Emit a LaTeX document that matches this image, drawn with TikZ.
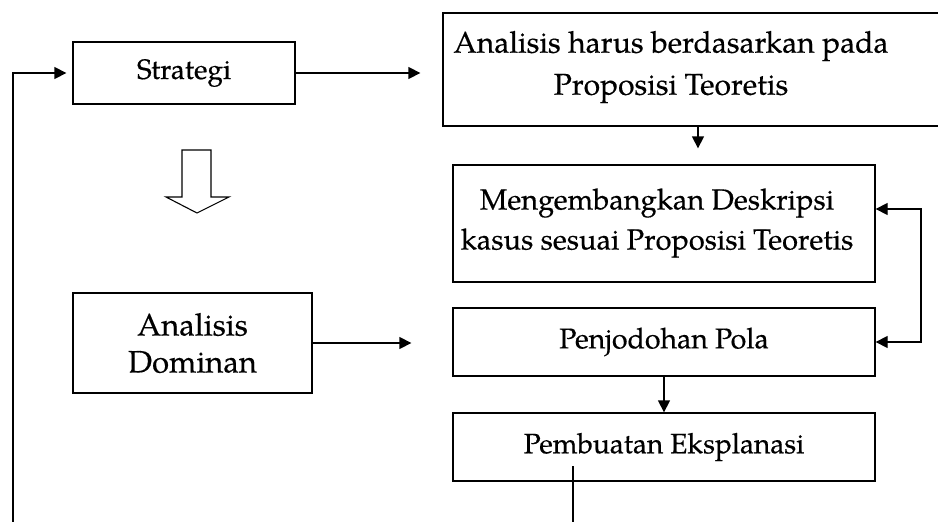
\documentclass[tikz,border=0pt]{standalone}
\usepackage{fontspec}
\setmainfont[FakeBold=0.4]{TeX Gyre Pagella}
\usetikzlibrary{arrows.meta,calc}
\begin{document}
\begin{tikzpicture}[x=1pt,y=-1pt,
  box/.style={draw,line width=1.3pt,rectangle,inner sep=0pt},
  lbl/.style={inner sep=0pt,align=center,font=\fontsize{27}{40}\selectfont},
  conn/.style={line width=1.3pt},
  arr/.style={conn,-{Triangle[length=12pt,width=12pt]}},
  darr/.style={conn,{Triangle[length=12pt,width=12pt]}-{Triangle[length=12pt,width=12pt]}}]
\useasboundingbox (0,0) rectangle (938,522);
% boxes
\node[box,minimum width=222pt,minimum height=62pt] (strat) at (184,73) {};
\node[box,minimum width=505pt,minimum height=113pt] (teori) at (695.5,69.5) {};
\node[box,minimum width=422pt,minimum height=117pt] (desk) at (664,223.5) {};
\node[box,minimum width=422pt,minimum height=68pt] (pola) at (664,342) {};
\node[box,minimum width=422pt,minimum height=68pt] (eks) at (664,447) {};
\node[box,minimum width=239pt,minimum height=100pt] (dom) at (192.5,343) {};
% texts
\node[lbl,font=\fontsize{28}{40}\selectfont] (tstrat) at (strat) {Strategi};
\node[lbl,font=\fontsize{30}{42}\selectfont] (tteori) at (671,67)
  {Analisis harus berdasarkan pada\\Proposisi Teoretis};
\node[lbl,font=\fontsize{29}{40}\selectfont] (tdesk) at (657,223)
  {Mengembangkan Deskripsi\\kasus sesuai Proposisi Teoretis};
\node[lbl,font=\fontsize{28.5}{40}\selectfont] (tpola) at (pola) {Penjodohan Pola};
\node[lbl,font=\fontsize{28}{40}\selectfont] (teks) at (eks) {Pembuatan Eksplanasi};
\node[lbl,font=\fontsize{31}{37}\selectfont] (tdom) at (dom) {Analisis\\Dominan};
% hollow arrow
\draw[line width=1.1pt] (182,150) -- (211,150) -- (211,197) -- (229,197) -- (197,213) -- (166,197) -- (182,197) -- cycle;
% connectors
\coordinate (lb) at (13,522);
\coordinate (xa) at (698,0);
\coordinate (xb) at (921,0);
\coordinate (xc) at (573,466);
\coordinate (xd) at (573,522);
\coordinate (yf) at (0,209);
\draw[arr,shorten >=6pt] (lb) |- (strat.west);
\draw[arr,shorten >=22pt] (strat.east) -- (strat.east -| teori.west);
\draw[arr,shorten >=16pt] (teori.south -| xa) -- (desk.north -| xa);
\draw[darr] (desk.east |- yf) -| (xb |- pola.east) -- (pola.east);
\draw[arr,shorten >=41pt] (dom.east) -- (dom.east -| pola.west);
\draw[arr] (pola.south) -- (eks.north);
\draw[conn] (xc) -- (xd);
\end{tikzpicture}
\end{document}
